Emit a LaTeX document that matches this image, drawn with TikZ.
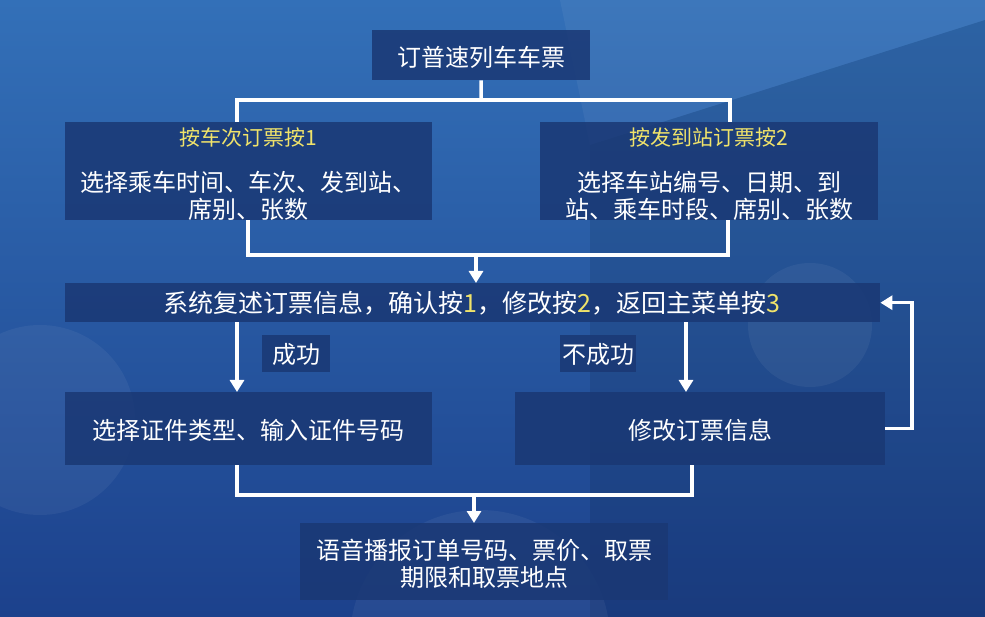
\documentclass[tikz,border=0pt]{standalone}
\usepackage{fontspec}
\setmainfont{Noto Sans CJK SC}
\usetikzlibrary{arrows.meta,calc}
\definecolor{bgtop}{HTML}{3370B8}
\definecolor{bgbot}{HTML}{1C418C}
\definecolor{boxc}{HTML}{1A3874}
\definecolor{ttl}{HTML}{F0E36A}
\begin{document}
\begin{tikzpicture}[x=1pt,y=-1pt,
  box/.style={fill=boxc, fill opacity=0.85, draw=none, inner sep=0pt, anchor=north west},
  txt/.style={text=white, font=\fontsize{24}{27}\selectfont, align=center, inner sep=0pt},
  ttltxt/.style={text=ttl, font=\fontsize{21}{25}\selectfont, inner sep=0pt},
  conn/.style={draw=white, line width=3.5pt},
  arr/.style={conn, -{Triangle[width=14pt,length=12pt]}}]
\useasboundingbox (0,0) rectangle (985,617);
% background
\fill[top color=bgtop, bottom color=bgbot] (0,0) rectangle (985,617);
\fill[white, opacity=0.05] (590,145) -- (985,20) -- (985,0) -- (560,0) -- cycle;
\fill[black, opacity=0.10] (590,145) -- (985,20) -- (985,617) -- (590,617) -- cycle;
\fill[white, opacity=0.05] (40,420) circle (95);
\fill[white, opacity=0.05] (810,325) circle (62);
\fill[white, opacity=0.05] (480,640) circle (130);
% boxes
\node[box, minimum width=218pt, minimum height=50pt] (top) at (372,30) {};
\node[box, minimum width=367pt, minimum height=98pt] (L) at (65,122) {};
\node[box, minimum width=338pt, minimum height=98pt] (R) at (540,122) {};
\node[box, minimum width=815pt, minimum height=39pt] (bar) at (65,283) {};
\node[box, minimum width=68pt, minimum height=37pt] (LS) at (262,335) {};
\node[box, minimum width=76pt, minimum height=37pt] (LF) at (560,335) {};
\node[box, minimum width=367pt, minimum height=73pt] (LL) at (65,392) {};
\node[box, minimum width=370pt, minimum height=73pt] (LR) at (515,392) {};
\node[box, minimum width=368pt, minimum height=77pt] (B) at (300,523) {};
% texts
\node[txt] (toptxt) at (481,57) {订普速列车车票};
\node[ttltxt] (Lt) at (248,138) {按车次订票按1};
\node[txt] (Lb) at (248,196) {选择乘车时间、车次、发到站、\\席别、张数};
\node[ttltxt] (Rt) at (709,138) {按发到站订票按2};
\node[txt] (Rb) at (709,196) {选择车站编号、日期、到\\站、乘车时段、席别、张数};
\node[txt, font=\fontsize{25}{28}\selectfont] (bart) at (472,303) {系统复述订票信息，确认按{\color{ttl}1}，修改按{\color{ttl}2}，返回主菜单按{\color{ttl}3}};
\node[txt] (LSt) at (296,354) {成功};
\node[txt] (LFt) at (598,354) {不成功};
\node[txt] (LLt) at (248,430) {选择证件类型、输入证件号码};
\node[txt] (LRt) at (700,430) {修改订票信息};
\node[txt] (Bt) at (484,564) {语音播报订单号码、票价、取票\\期限和取票地点};
% connectors
\coordinate (jt) at (481,100);
\coordinate (jtl) at (237,100);
\coordinate (jtr) at (730,100);
\draw[conn] (top.south) -- (jt);
\draw[conn] (jtl |- L.north) -- (jtl) -- (jtr) -- (jtr |- R.north);
\coordinate (jml) at (248,255);
\coordinate (jmr) at (728,255);
\coordinate (jm) at (476,255);
\draw[conn] (jml |- L.south) -- (jml) -- (jmr) -- (jmr |- R.south);
\draw[arr] (jm) -- (jm |- bar.north);
\coordinate (al) at (237,0);
\coordinate (ar) at (686,0);
\draw[arr] (al |- bar.south) -- (al |- LL.north);
\draw[arr] (ar |- bar.south) -- (ar |- LR.north);
\coordinate (fb) at (912,0);
\draw[arr] (LR.east) -- (fb |- LR.east) -- (fb |- bar.east) -- (bar.east);
\coordinate (jbl) at (237,495);
\coordinate (jbr) at (692,495);
\coordinate (jb) at (474,495);
\draw[conn] (jbl |- LL.south) -- (jbl) -- (jbr) -- (jbr |- LR.south);
\draw[arr] (jb) -- (jb |- B.north);
\end{tikzpicture}
\end{document}
